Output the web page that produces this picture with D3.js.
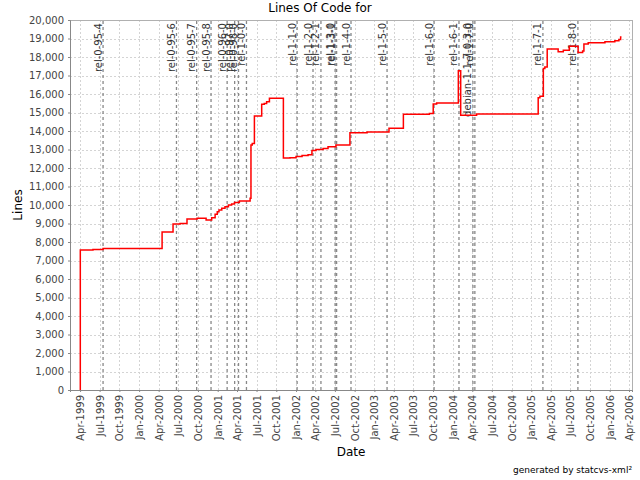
<!DOCTYPE html>
<html>
<head>
<meta charset="utf-8">
<script src="https://cdn.jsdelivr.net/npm/d3@7"></script>
<style>
  html, body { margin: 0; padding: 0; background: #fff; }
  text { font-family: "DejaVu Sans", sans-serif; }
</style>
</head>
<body>
<svg id="chart" width="640" height="480"></svg>
<script>
// ---- data ----
const dates = [
  "1999-04-01","1999-04-02","1999-05-31","1999-07-17","2000-04-17","2000-06-07","2000-07-10",
  "2000-08-11","2000-09-27","2000-11-08","2000-12-04","2000-12-20","2000-12-30","2001-01-07",
  "2001-01-20","2001-02-04","2001-02-20","2001-03-07","2001-03-20","2001-04-12","2001-06-01",
  "2001-06-05","2001-06-11","2001-06-21","2001-07-25","2001-08-06","2001-08-17","2001-08-30",
  "2001-11-03","2001-12-04","2002-01-01","2002-01-29","2002-02-26","2002-03-16","2002-04-04",
  "2002-05-07","2002-05-30","2002-07-06","2002-09-09","2002-11-28","2003-03-10","2003-05-16",
  "2003-09-14","2003-10-02","2003-10-18","2004-01-27","2004-02-07","2004-04-21","2005-02-02",
  "2005-02-10","2005-02-26","2005-03-05","2005-03-16","2005-05-06","2005-05-30","2005-06-27",
  "2005-08-07","2005-08-28","2005-09-03","2005-09-23","2005-12-10","2006-01-25","2006-02-13",
  "2006-02-21","2006-02-25"
];
const lines = [
  0,7570,7600,7650,8540,8970,9000,
  9240,9280,9190,9310,9500,9640,9730,
  9820,9910,10000,10050,10130,10215,10360,
  13240,13330,14810,15440,15490,15580,15770,
  12540,12560,12620,12680,12720,12950,13000,
  13050,13150,13250,13900,13950,14150,14900,
  14950,15460,15510,17260,14850,14920,15800,
  15880,17380,17460,18430,18290,18360,18580,
  18250,18320,18700,18770,18830,18880,18950,
  19080,19080
];
const tagNames = [
  "rel-0-95-4","rel-0-95-6","rel-0-95-7","rel-0-95-8","rel-0-96-0","rel-0-97-0","rel-0-98-0",
  "rel-1-0-0","rel-1-1-0","rel-1-2-0","rel-1-2-1","rel-1-3-0","rel-1-3-1","rel-1-4-0",
  "rel-1-5-0","rel-1-6-0","rel-1-6-1","debian-1-1-7-0-3-0","rel-1-7-0","rel-1-7-1","rel-1-8-0"
];
const tagDates = [
  "1999-07-17","2000-06-23","2000-09-25","2000-12-01","2001-02-14","2001-03-21","2001-04-08",
  "2001-05-15","2002-01-06","2002-03-21","2002-04-27","2002-07-02","2002-07-09","2002-09-14",
  "2003-03-01","2003-10-06","2004-01-30","2004-04-04","2004-04-13","2005-02-24","2005-08-06"
];
const xDomain = ["1999-02-13","2006-04-15"];
const yDomain = [0, 20000];
const titleText = "Lines Of Code for";
const xLabel = "Date";
const yLabel = "Lines";
const footer = "generated by statcvs-xml\u00b2";

// ---- drawing ----
const parse = d3.utcParse("%Y-%m-%d");
const svg = d3.select("#chart");
const W = 640, H = 480;
const m = {left: 70, right: 8, top: 20, bottom: 90};
const pw = W - m.left - m.right, ph = H - m.top - m.bottom;

const x = d3.scaleUtc().domain(xDomain.map(parse)).range([m.left, m.left + pw]);
const y = d3.scaleLinear().domain(yDomain).range([m.top + ph, m.top]);

svg.append("rect").attr("width", W).attr("height", H).attr("fill", "#fff");

const xTicks = d3.utcMonth.every(3).range(x.domain()[0], d3.utcDay.offset(x.domain()[1], 1));
const yTicks = d3.range(0, 20001, 1000);

// grid
const grid = svg.append("g").attr("stroke", "#d4d4d4").attr("stroke-dasharray", "2,2").attr("stroke-width", 1);
grid.selectAll("line.h").data(yTicks).join("line")
  .attr("x1", m.left).attr("x2", m.left + pw)
  .attr("y1", d => Math.round(y(d)) + 0.5).attr("y2", d => Math.round(y(d)) + 0.5);
grid.selectAll("line.v").data(xTicks).join("line")
  .attr("y1", m.top).attr("y2", m.top + ph)
  .attr("x1", d => Math.round(x(d)) + 0.5).attr("x2", d => Math.round(x(d)) + 0.5);

// plot border
svg.append("rect").attr("x", m.left + 0.5).attr("y", m.top + 0.5)
  .attr("width", pw).attr("height", ph)
  .attr("fill", "none").attr("stroke", "#b0b0b0");

// tag markers
const tags = tagNames.map((n, i) => ({name: n, date: parse(tagDates[i])}));
const tg = svg.append("g");
tg.selectAll("line").data(tags).join("line")
  .attr("x1", d => x(d.date)).attr("x2", d => x(d.date))
  .attr("y1", m.top + 1).attr("y2", m.top + ph)
  .attr("stroke", "#888").attr("stroke-width", 1.3).attr("stroke-dasharray", "3,3");
tg.selectAll("text").data(tags).join("text")
  .attr("transform", d => `translate(${x(d.date) - 1.5},${m.top + 3}) rotate(-90)`)
  .attr("text-anchor", "end")
  .attr("font-size", 10).attr("fill", "#333")
  .text(d => d.name);

// series
const pts = dates.map((d, i) => ({date: parse(d), v: lines[i]}));
const lineGen = d3.line().x(d => x(d.date)).y(d => y(d.v)).curve(d3.curveStepAfter);
svg.append("path").datum(pts)
  .attr("d", lineGen).attr("fill", "none")
  .attr("stroke", "#ff0000").attr("stroke-width", 1.5);

// axes
const yAxis = d3.axisLeft(y).tickValues(yTicks).tickSize(2).tickPadding(4)
  .tickFormat(d3.format(","));
const gy = svg.append("g").attr("transform", `translate(${m.left},0)`).call(yAxis);
gy.select(".domain").attr("stroke", "#888");
gy.selectAll(".tick line").attr("stroke", "#888");
gy.selectAll("text").attr("font-size", 10).attr("fill", "#444")
  .style("font-family", "DejaVu Sans, sans-serif");

const xAxis = d3.axisBottom(x).tickValues(xTicks).tickSize(2).tickFormat(d3.utcFormat("%b-%Y"));
const gx = svg.append("g").attr("transform", `translate(0,${m.top + ph})`).call(xAxis);
gx.select(".domain").attr("stroke", "#888");
gx.selectAll(".tick line").attr("stroke", "#888");
gx.selectAll("text")
  .attr("font-size", 10).attr("fill", "#444")
  .style("font-family", "DejaVu Sans, sans-serif")
  .attr("text-anchor", "end")
  .attr("transform", "rotate(-90)")
  .attr("x", -5).attr("y", 0).attr("dy", "0.35em");

// titles
svg.append("text").attr("x", 320).attr("y", 12).attr("text-anchor", "middle")
  .attr("font-size", 12).attr("fill", "#000").text(titleText);
svg.append("text").attr("x", m.left + pw / 2).attr("y", 456).attr("text-anchor", "middle")
  .attr("font-size", 12).attr("fill", "#000").text(xLabel);
svg.append("text").attr("transform", `translate(22,${m.top + ph / 2}) rotate(-90)`)
  .attr("text-anchor", "middle").attr("font-size", 12).attr("fill", "#000").text(yLabel);
svg.append("text").attr("x", 632).attr("y", 473).attr("text-anchor", "end")
  .attr("font-size", 9).attr("fill", "#000").text(footer);
</script>
</body>
</html>
